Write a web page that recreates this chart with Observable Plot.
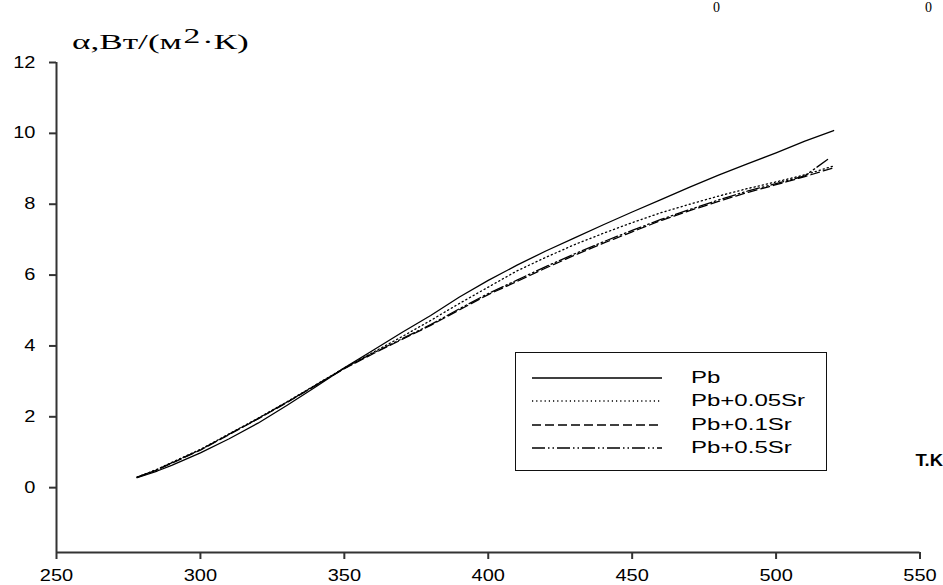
<!DOCTYPE html>
<html><head><meta charset="utf-8">
<script src="https://cdn.jsdelivr.net/npm/d3@7"></script>
<script src="https://cdn.jsdelivr.net/npm/@observablehq/plot@0.6"></script>
<style>
body{margin:0;background:#fff}
#wrap{position:relative;width:943px;height:585px;overflow:hidden;background:#fff}
.ov{position:absolute;white-space:nowrap;color:#000}
#title{left:72px;top:29px;font-family:"Liberation Serif","DejaVu Serif",serif;font-size:22px;transform:scaleX(1.6);transform-origin:left center}
#title sup{font-size:21px;position:relative;top:-6px;vertical-align:baseline;margin:0 1px}
#tk{right:0px;top:452px;font-family:"Liberation Sans",Arial,sans-serif;font-weight:bold;font-size:16px;transform:scaleX(1.15);transform-origin:right center}
.z{font-family:"Liberation Serif",serif;font-size:14px;line-height:14px;top:1px}
#legend{position:absolute;left:515px;top:352px;width:312px;height:119px;border:1.5px solid #111;box-sizing:border-box}
#legend .row{position:absolute;left:16px;height:20px;display:flex;align-items:center}
#legend .row span{font-family:"Liberation Sans",Arial,sans-serif;font-size:16px;margin-left:29px;transform:scaleX(1.5);transform-origin:left center;display:inline-block}
</style></head>
<body>
<div id="wrap"></div>
<script>
const T = [278,285,290,300,310,320,330,340,350,360,370,380,390,400,410,420,430,440,450,460,470,480,490,500,510,520];
const T05 = [278,285,290,300,310,320,330,340,350,360,370,380,390,400,410,420,430,440,450,460,470,480,490,500,510,518];
const pb    = [0.28,0.47,0.63,0.98,1.38,1.82,2.32,2.84,3.38,3.88,4.38,4.86,5.38,5.85,6.28,6.68,7.05,7.42,7.78,8.13,8.48,8.82,9.14,9.45,9.78,10.08];
const sr005 = [0.30,0.52,0.71,1.08,1.52,1.96,2.42,2.90,3.38,3.82,4.26,4.72,5.20,5.66,6.12,6.50,6.86,7.18,7.48,7.76,8.00,8.23,8.44,8.63,8.83,9.08];
const sr01  = [0.29,0.50,0.69,1.06,1.50,1.94,2.40,2.88,3.36,3.78,4.18,4.58,5.02,5.45,5.82,6.20,6.56,6.90,7.22,7.54,7.82,8.08,8.33,8.55,8.78,9.03];
const sr05  = [0.30,0.51,0.70,1.07,1.51,1.95,2.41,2.89,3.37,3.80,4.20,4.60,5.05,5.48,5.86,6.24,6.60,6.94,7.26,7.57,7.85,8.12,8.37,8.58,8.80,9.27];
const seriesNames = ["Pb","Pb+0.05Sr","Pb+0.1Sr","Pb+0.5Sr"];
const xTicks = [250,300,350,400,450,500,550];
const yTicks = [0,2,4,6,8,10,12];
const xDomain = [250,550];
const yDomain = [-1.83,12];

const dashes = ["none","1.2,3","9,4","13,3,1.5,3,1.5,3"];
const toRows = (xs, ys) => xs.map((t,i)=>({T:t, a:ys[i]}));
const sets = [toRows(T,pb), toRows(T,sr005), toRows(T,sr01), toRows(T05,sr05)];

const chart = Plot.plot({
  width: 943, height: 585,
  marginLeft: 56, marginRight: 23.5, marginTop: 62, marginBottom: 33,
  style: {fontFamily: '"Liberation Sans", Arial, sans-serif', fontSize: "16px", color: "#000", background: "#fff"},
  x: {domain: xDomain},
  y: {domain: yDomain},
  marks: [
    ...sets.map((d,i)=>Plot.line(d, {x:"T", y:"a", stroke:"#000", strokeWidth:1.3, strokeDasharray:dashes[i]})),
    Plot.ruleX([xDomain[0]], {y1: yDomain[0], y2: yDomain[1], stroke:"#333", strokeWidth:2}),
    Plot.ruleY([yDomain[0]], {x1: xDomain[0], x2: xDomain[1], stroke:"#333", strokeWidth:2}),
    Plot.axisX(xTicks, {tickSize: 7, tickPadding: 10, label: null, stroke:"#333", strokeWidth:2, fontSize: 16}),
    Plot.axisY(yTicks, {tickSize: 7, tickPadding: 14, label: null, stroke:"#333", strokeWidth:2, fontSize: 16})
  ]
});
// widen tick labels horizontally, like the reference's stretched glyphs
chart.querySelectorAll('g[aria-label$="tick label"] text').forEach(t => {
  const tr = t.getAttribute("transform") || "";
  t.setAttribute("transform", tr + " scale(1.25,1)");
});
const wrap = document.getElementById("wrap");
wrap.appendChild(chart);

const add = (html, id, cls, style) => {
  const d = document.createElement("div");
  d.className = "ov " + (cls||"");
  if (id) d.id = id;
  d.innerHTML = html;
  if (style) d.setAttribute("style", style);
  wrap.appendChild(d);
};
add("α,Вт/(м<sup>2</sup>·К)", "title");
add("T.K", "tk");
add("0", null, "z", "left:713px");
add("0", null, "z", "left:925px");

const lg = document.createElement("div");
lg.id = "legend";
const rowTops = [15, 38, 62, 85];
seriesNames.forEach((name,i)=>{
  const r = document.createElement("div");
  r.className = "row";
  r.style.top = rowTops[i] + "px";
  r.innerHTML = `<svg width="130" height="4"><line x1="0" y1="2" x2="130" y2="2" stroke="#000" stroke-width="1.6" stroke-dasharray="${dashes[i]}"/></svg><span>${name}</span>`;
  lg.appendChild(r);
});
wrap.appendChild(lg);
</script>
</body></html>
